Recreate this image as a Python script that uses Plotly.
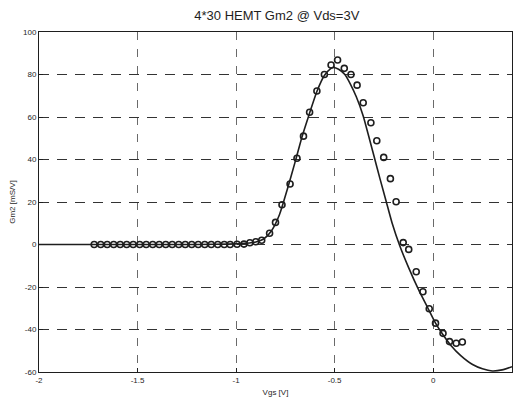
import plotly.graph_objects as go

# Measured points (open circles)
vgs_meas = [-1.72, -1.687, -1.654, -1.621, -1.588, -1.555, -1.522, -1.489, -1.456, -1.423,
            -1.39, -1.357, -1.324, -1.291, -1.258, -1.225, -1.192, -1.159, -1.126, -1.093,
            -1.06, -1.03, -0.995, -0.96, -0.93, -0.90, -0.87, -0.83, -0.80, -0.767,
            -0.726, -0.691, -0.658, -0.627, -0.590, -0.552, -0.518, -0.485, -0.451, -0.417,
            -0.386, -0.355, -0.316, -0.286, -0.251, -0.217, -0.188, -0.152, -0.124, -0.086,
            -0.052, -0.020, 0.012, 0.050, 0.083, 0.117, 0.148]
gm2_meas = [0, 0, 0, 0, 0, 0, 0, 0, 0, 0,
            0, 0, 0, 0, 0, 0, 0, 0, 0, 0,
            0, 0, 0.1, 0.2, 0.8, 1.3, 2.0, 5.3, 10.4, 18.7,
            28.5, 40.6, 51.0, 62.2, 72.2, 80.0, 84.5, 86.8, 82.9, 80.0,
            75.0, 66.7, 57.3, 48.8, 41.0, 31.0, 20.1, 0.9, -2.3, -12.8,
            -22.2, -30.2, -37.0, -41.8, -45.7, -46.5, -45.9]

# Model curve (solid line)
vgs_model = [-2.0, -1.6, -1.3, -1.1, -1.0, -0.95, -0.90, -0.86, -0.82, -0.78,
             -0.74, -0.70, -0.666, -0.63, -0.59, -0.552, -0.52, -0.505, -0.48, -0.448,
             -0.42, -0.39, -0.355, -0.33, -0.30, -0.27, -0.239, -0.208, -0.17, -0.124,
             -0.073, -0.03, 0.012, 0.05, 0.09, 0.14, 0.20, 0.25, 0.30, 0.35, 0.40]
gm2_model = [0, 0, 0, 0.1, 0.3, 0.6, 1.2, 2.6, 6.5, 14,
             26, 39, 50.5, 61, 72, 79.5, 82.8, 83.3, 82.5, 80,
             75.5, 69.5, 60.5, 52, 41.5, 31, 20.5, 10, -0.5, -11,
             -21.5, -29.3, -37, -42.5, -47.5, -52.3, -56.5, -58.5, -59.5, -59, -57.5]

x_tickvals = [-2, -1.5, -1, -0.5, 0]
x_ticktext = ["-2", "-1.5", "-1", "-0.5", "0"]
y_tickvals = [-60, -40, -20, 0, 20, 40, 60, 80, 100]
y_ticktext = ["-60", "-40", "-20", "0", "20", "40", "60", "80", "100"]

ink = "#1e1e1e"
font = "Liberation Sans, Arial, sans-serif"

fig = go.Figure()
fig.add_trace(go.Scatter(x=vgs_model, y=gm2_model, mode="lines",
                         line=dict(color=ink, width=1.6, shape="spline", smoothing=0.6),
                         showlegend=False, hoverinfo="skip"))
fig.add_trace(go.Scatter(x=vgs_meas, y=gm2_meas, mode="markers",
                         marker=dict(symbol="circle-open", size=6, color=ink,
                                     line=dict(width=1.6, color=ink)),
                         showlegend=False))

axis_common = dict(showline=True, linecolor=ink, linewidth=1, mirror=True,
                   ticks="inside", ticklen=4, tickcolor=ink, automargin=False,
                   showgrid=True, gridwidth=1,
                   zeroline=False, tickfont=dict(family=font, size=8, color=ink))

fig.update_layout(
    width=517, height=397,
    margin=dict(l=31, r=13, t=24, b=33, autoexpand=False),
    paper_bgcolor="white", plot_bgcolor="white",
    title=dict(text="4*30 HEMT Gm2 @ Vds=3V", x=0.52, xanchor="center",
               y=0.982, yanchor="middle",
               font=dict(family=font, size=13, color=ink)),
    xaxis=dict(range=[-2, 0.4], tickvals=x_tickvals, ticktext=x_ticktext,
               gridcolor="#6a6a6a", griddash="8px,9px",
               title=dict(text="Vgs [V]", font=dict(family=font, size=8, color=ink), standoff=5),
               **axis_common),
    yaxis=dict(range=[-60, 100], tickvals=y_tickvals, ticktext=y_ticktext,
               gridcolor="#333333", griddash="10px,8px",
               title=dict(text="Gm2 [mS/V]", font=dict(family=font, size=8, color=ink), standoff=8),
               **axis_common),
)

fig.write_html("out.html")
